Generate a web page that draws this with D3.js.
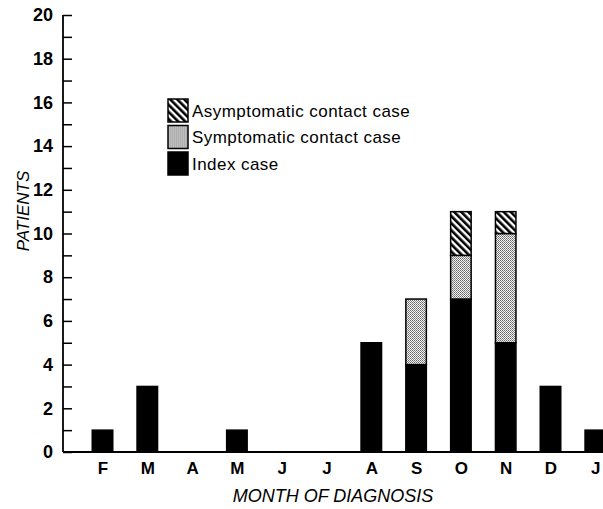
<!DOCTYPE html>
<html><head><meta charset="utf-8">
<script src="https://cdn.jsdelivr.net/npm/d3@7"></script>
<style>body{margin:0;background:#fff}</style>
</head><body><svg id="c" width="603" height="509"></svg>
<script>
const months = ["F","M","A","M","J","J","A","S","O","N","D","J"];
const indexCase = [1,3,0,1,0,0,5,4,7,5,3,1];
const symptomatic = [0,0,0,0,0,0,0,3,2,5,0,0];
const asymptomatic = [0,0,0,0,0,0,0,0,2,1,0,0];
const yTickValues = d3.range(0,21,1);
const seriesKeys = ["index","symptomatic","asymptomatic"];
const legendLabels = ["Asymptomatic contact case","Symptomatic contact case","Index case"];
const legendKeys = ["asymptomatic","symptomatic","index"];

const svg = d3.select("#c");
const defs = svg.append("defs");
const hatch = defs.append("pattern").attr("id","hatch").attr("patternUnits","userSpaceOnUse")
  .attr("width",5).attr("height",5).attr("patternTransform","rotate(-45)");
hatch.append("rect").attr("width",5).attr("height",5).attr("fill","#fff");
hatch.append("rect").attr("width",2.6).attr("height",5).attr("fill","#000");
const dots = defs.append("pattern").attr("id","dots").attr("patternUnits","userSpaceOnUse")
  .attr("width",2).attr("height",2);
dots.append("rect").attr("width",2).attr("height",2).attr("fill","#f4f4f4");
dots.append("rect").attr("x",0).attr("y",0).attr("width",1).attr("height",1).attr("fill","#666");
dots.append("rect").attr("x",1).attr("y",1).attr("width",1).attr("height",1).attr("fill","#888");

const fills = {index:"#000", symptomatic:"url(#dots)", asymptomatic:"url(#hatch)"};
const font = "Liberation Sans, Arial, sans-serif";

const data = months.map((m,i)=>({i, index:indexCase[i], symptomatic:symptomatic[i], asymptomatic:asymptomatic[i]}));
const x = d3.scalePoint().domain(d3.range(months.length)).range([102.5, 595.3]);
const y = d3.scaleLinear().domain([0,20]).range([452,15]);
const barW = 20.5;

const stack = d3.stack().keys(seriesKeys)(data);
svg.append("g").selectAll("g").data(stack).join("g")
  .attr("fill", s => fills[s.key])
  .selectAll("rect").data(s => s.filter(d => d[1] > d[0])).join("rect")
  .attr("x", d => x(d.data.i) - barW/2)
  .attr("y", d => y(d[1]))
  .attr("width", barW)
  .attr("height", d => y(d[0]) - y(d[1]))
  .attr("stroke","#000").attr("stroke-width",1.5);

// y axis
const yAxis = d3.axisLeft(y).tickValues(yTickValues).tickSize(-9).tickPadding(10)
  .tickFormat(d => d % 2 === 0 ? d : "");
const gy = svg.append("g").attr("transform","translate(63,0)").call(yAxis);
gy.select(".domain").remove();
gy.append("line").attr("x1",0).attr("x2",0).attr("y1",y(20)).attr("y2",y(0)).attr("stroke","#000").attr("stroke-width",1.8);
gy.selectAll(".tick line").attr("stroke","#000").attr("stroke-width",1.5);
gy.selectAll(".tick text").attr("fill","#000").style("font-family",font)
  .style("font-size","18px").style("font-weight","bold");

// x axis
svg.append("line").attr("x1",63).attr("x2",603).attr("y1",y(0)).attr("y2",y(0)).attr("stroke","#000").attr("stroke-width",1.8);
const xAxis = d3.axisBottom(x).tickSize(0).tickPadding(10).tickFormat(i => months[i]);
const gx = svg.append("g").attr("transform",`translate(0,${y(0)})`).call(xAxis);
gx.select(".domain").remove();
gx.selectAll(".tick text").attr("fill","#000").style("font-family",font)
  .style("font-size","17px").style("font-weight","bold");

svg.append("text").attr("x",333).attr("y",502).attr("text-anchor","middle")
  .style("font-family",font).style("font-size","18px").style("font-style","italic")
  .text("MONTH OF DIAGNOSIS");
svg.append("text").attr("transform","translate(29,211) rotate(-90)").attr("text-anchor","middle")
  .style("font-family",font).style("font-size","17px").style("font-style","italic")
  .text("PATIENTS");

// legend
const lg = svg.append("g").selectAll("g").data(legendKeys).join("g")
  .attr("transform",(d,i)=>`translate(168,${99 + i*26.5})`);
lg.append("rect").attr("width",20).attr("height",23).attr("fill",d=>fills[d]).attr("stroke","#000").attr("stroke-width",1.5);
lg.append("text").attr("x",24).attr("y",17.5)
  .style("font-family",font).style("font-size","17px").style("letter-spacing","0.45px")
  .text((d,i)=>legendLabels[i]);
</script></body></html>
